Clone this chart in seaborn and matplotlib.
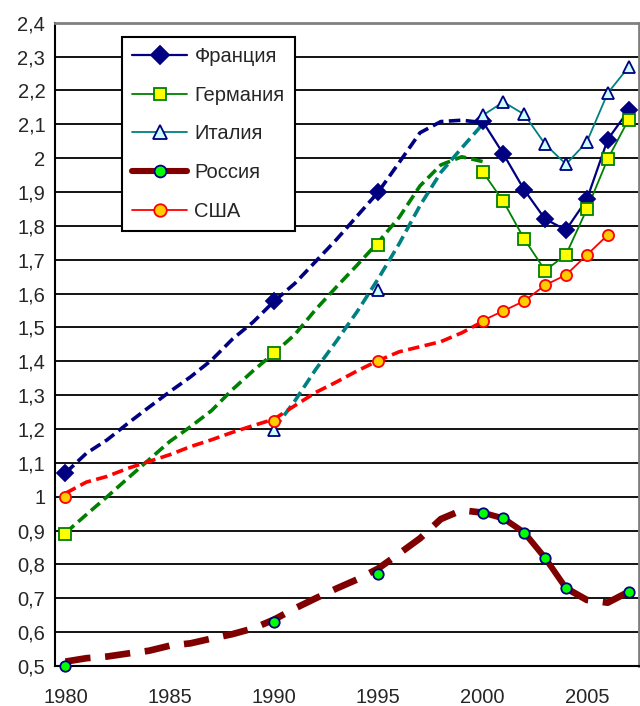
import numpy as np
import pandas as pd
import seaborn as sns
import matplotlib
matplotlib.use('Agg')
import matplotlib.pyplot as plt
from matplotlib.lines import Line2D

sns.set_style('white')
plt.rcParams['font.family'] = ['Liberation Sans', 'DejaVu Sans']

countries = ['Франция', 'Германия', 'Италия', 'Россия', 'США']

# points with markers (known years)
france_years = [1980, 1990, 1995, 2000, 2001, 2002, 2003, 2004, 2005, 2006, 2007]
france = [1.07, 1.577, 1.90, 2.109, 2.012, 1.906, 1.82, 1.788, 1.878, 2.055, 2.141]
germany_years = [1980, 1990, 1995, 2000, 2001, 2002, 2003, 2004, 2005, 2006, 2007]
germany = [0.89, 1.424, 1.742, 1.96, 1.872, 1.761, 1.668, 1.715, 1.849, 1.997, 2.114]
italy_years = [1990, 1995, 2000, 2001, 2002, 2003, 2004, 2005, 2006, 2007]
italy = [1.197, 1.61, 2.126, 2.166, 2.129, 2.041, 1.982, 2.048, 2.192, 2.269]
russia_years = [1980, 1990, 1995, 2000, 2001, 2002, 2003, 2004, 2007]
russia = [0.5, 0.63, 0.771, 0.953, 0.936, 0.894, 0.819, 0.73, 0.719]
usa_years = [1980, 1990, 1995, 2000, 2001, 2002, 2003, 2004, 2005, 2006]
usa = [1.0, 1.225, 1.402, 1.52, 1.549, 1.578, 1.625, 1.655, 1.714, 1.773]

# dashed (estimated) trend lines, read year by year
dash_years = list(range(1980, 2001))
france_dash = [1.07, 1.128, 1.168, 1.217, 1.264, 1.31, 1.354, 1.403, 1.465, 1.516, 1.577,
               1.63, 1.695, 1.76, 1.83, 1.90, 1.987, 2.075, 2.108, 2.112, 2.105]
germany_dash = [0.893, 0.947, 1.0, 1.055, 1.109, 1.163, 1.207, 1.254, 1.316, 1.372, 1.424,
                1.479, 1.553, 1.62, 1.685, 1.752, 1.825, 1.918, 1.98, 2.004, 1.99]
italy_dash_years = list(range(1990, 2001))
italy_dash = [1.2, 1.283, 1.376, 1.46, 1.548, 1.644, 1.747, 1.86, 1.958, 2.03, 2.1]
russia_dash = [0.513, 0.523, 0.528, 0.537, 0.545, 0.56, 0.567, 0.581, 0.594, 0.611, 0.637,
               0.67, 0.7, 0.729, 0.756, 0.788, 0.832, 0.877, 0.934, 0.96, 0.953]
russia_dash2_years = [2004, 2005, 2006, 2007]
russia_dash2 = [0.73, 0.695, 0.687, 0.719]
usa_dash = [1.01, 1.043, 1.06, 1.084, 1.104, 1.124, 1.148, 1.168, 1.19, 1.21, 1.229,
            1.269, 1.308, 1.339, 1.372, 1.402, 1.428, 1.443, 1.458, 1.484, 1.517]

y_ticks = [round(0.5 + 0.1 * i, 1) for i in range(20)]
x_labels = [1980, 1985, 1990, 1995, 2000, 2005]

styles = {
    'Франция': dict(color='#000080', marker='D', face='#000080', edge='#000080', ms=8, lw=1.6, dlw=2.6, dash=(3.2, 1.5)),
    'Германия': dict(color='#008000', marker='s', face='#FFFF00', edge='#008000', ms=8, lw=1.3, dlw=2.6, dash=(3.2, 1.5)),
    'Италия': dict(color='#008080', marker='^', face='#CCFFFF', edge='#000080', ms=9, lw=1.3, dlw=2.6, dash=(3.2, 1.5)),
    'Россия': dict(color='#800000', marker='o', face='#00FF00', edge='#000080', ms=7.5, lw=4.4, dlw=4.8, dash=(3.8, 2.2)),
    'США': dict(color='#FF0000', marker='o', face='#FFCC00', edge='#FF0000', ms=8, lw=1.3, dlw=2.6, dash=(3.2, 1.5)),
}

marks = {
    'Франция': (france_years, france),
    'Германия': (germany_years, germany),
    'Италия': (italy_years, italy),
    'Россия': (russia_years, russia),
    'США': (usa_years, usa),
}
dashed = {
    'Франция': [(dash_years, france_dash)],
    'Германия': [(dash_years, germany_dash)],
    'Италия': [(italy_dash_years, italy_dash)],
    'Россия': [(dash_years, russia_dash), (russia_dash2_years, russia_dash2)],
    'США': [(dash_years, usa_dash)],
}

fig = plt.figure(figsize=(6.4, 7.06), dpi=100)
ax = fig.add_axes([55 / 640, 40 / 706, 584 / 640, 643.3 / 706])

# dashed trend lines
for c in countries:
    st = styles[c]
    for xs, ys in dashed[c]:
        sns.lineplot(x=xs, y=ys, ax=ax, color=st['color'], lw=st['dlw'],
                     linestyle=(0, st['dash']), dash_capstyle='butt', zorder=3)

# solid lines for consecutive annual data from 2000
for c in countries:
    st = styles[c]
    xs, ys = marks[c]
    df = pd.DataFrame({'year': xs, 'val': ys})
    df = df[df['year'] >= 2000]
    run = (df['year'].diff() != 1).cumsum()
    for _, part in df.groupby(run):
        if len(part) > 1:
            sns.lineplot(data=part, x='year', y='val', ax=ax, color=st['color'],
                         lw=st['lw'], zorder=4)

# markers
for c in countries:
    st = styles[c]
    xs, ys = marks[c]
    ax.plot(xs, ys, linestyle='none', marker=st['marker'], ms=st['ms'],
            mfc=st['face'], mec=st['edge'], mew=1.3, zorder=5, clip_on=False)

ax.set_xlim(1979.5, 2007.5)
ax.set_ylim(0.5, 2.4)
ax.set_yticks(y_ticks)
ax.set_yticklabels([f'{v:g}'.replace('.', ',') for v in y_ticks], fontsize=14.5)
ax.set_xticks(x_labels)
ax.set_xticklabels([str(v) for v in x_labels], fontsize=14.5)
ax.set_xticks(np.arange(1979.5, 2008, 1.0), minor=True)
ax.tick_params(axis='x', which='major', length=0, pad=16)
ax.tick_params(axis='x', which='minor', length=6, width=1.2, color='black', direction='out')
ax.tick_params(axis='y', length=6, width=1.2, color='black', direction='out', pad=1)
ax.set_xlabel('')
ax.set_ylabel('')

ax.yaxis.grid(True, color='black', lw=1.3)
ax.set_axisbelow(True)
for side in ['left', 'bottom']:
    ax.spines[side].set_color('black')
    ax.spines[side].set_linewidth(1.5)
for side in ['top', 'right']:
    ax.spines[side].set_color('#808080')
    ax.spines[side].set_linewidth(2)

handles = []
for c in countries:
    st = styles[c]
    handles.append(Line2D([0], [0], color=st['color'], lw=st['lw'],
                          marker=st['marker'], ms=st['ms'] + 1, mfc=st['face'],
                          mec=st['edge'], mew=1.3))
leg = ax.legend(handles, countries, loc='upper left', bbox_to_anchor=(0.1147, 0.978),
                borderaxespad=0, fontsize=14.5, frameon=True, fancybox=False,
                edgecolor='black', framealpha=1, labelspacing=0.98, handlelength=2.75,
                handletextpad=0.35, borderpad=0.5)
leg.get_frame().set_linewidth(1.5)

fig.savefig('out.png', dpi=100)
